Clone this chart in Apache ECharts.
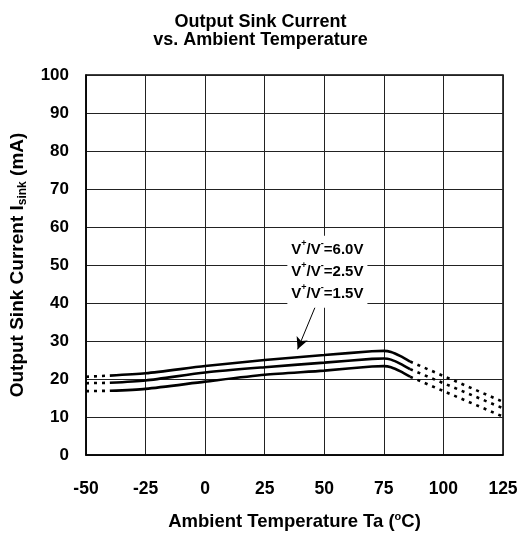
<!DOCTYPE html>
<html><head><meta charset="utf-8">
<script src="https://cdn.jsdelivr.net/npm/echarts/dist/echarts.min.js"></script>
<style>html,body{margin:0;padding:0;background:#fff}#c{width:521px;height:533px}</style>
</head><body><div id="c"></div>
<script>
// Temperatures (°C) for the solid part of each curve
const tempSolid = [-40, -25, 0, 25, 50, 70, 75, 78, 82, 86];
const sink60 = [20.9, 21.5, 23.4, 25.0, 26.3, 27.3, 27.4, 27.1, 26.0, 24.6];
const sink25 = [19.0, 19.6, 21.7, 23.1, 24.3, 25.3, 25.4, 25.1, 24.0, 22.6];
const sink15 = [16.9, 17.4, 19.3, 21.1, 22.2, 23.3, 23.4, 23.1, 22.0, 20.6];
// Dotted (extrapolated) parts
const tempLow = [-50, -40];
const low60 = [20.6, 20.9];
const low25 = [18.9, 19.0];
const low15 = [16.8, 16.9];
const tempHigh = [86, 125];
const high60 = [24.6, 14.0];
const high25 = [22.6, 12.3];
const high15 = [20.6, 10.1];
const xTicks = [-50, -25, 0, 25, 50, 75, 100, 125];
const yTicks = [0, 10, 20, 30, 40, 50, 60, 70, 80, 90, 100];
const labels = ['6.0V', '2.5V', '1.5V'];
const annotationAt = [51.3, 48.2];
const arrowFrom = [46.8, 39.9];
const arrowTo = [38.8, 27.8];

const FONT = '"Liberation Sans", Arial, sans-serif';
const zip = (xs, ys) => xs.map((x, i) => [x, ys[i]]);

function solid(data) {
  return { type: 'line', data: data, showSymbol: false, symbol: 'none', smooth: 0.25,
    lineStyle: { color: '#000', width: 2.6 }, silent: true, animation: false };
}
function dotted(data) {
  return { type: 'line', data: data, showSymbol: false, symbol: 'none',
    lineStyle: { color: '#000', width: 2.6, type: [3, 5] }, silent: true, animation: false };
}

const series = [
  solid(zip(tempSolid, sink60)), solid(zip(tempSolid, sink25)), solid(zip(tempSolid, sink15)),
  dotted(zip(tempLow, low60)), dotted(zip(tempLow, low25)), dotted(zip(tempLow, low15)),
  dotted(zip(tempHigh, high60)), dotted(zip(tempHigh, high25)), dotted(zip(tempHigh, high15))
];
series[0].markLine = {
  silent: true, animation: false, symbol: ['none', 'arrow'], symbolSize: [9, 12],
  label: { show: false },
  lineStyle: { color: '#000', width: 1, type: 'solid' },
  data: [[{ coord: arrowFrom }, { coord: arrowTo }]]
};
series[0].markPoint = {
  silent: true, animation: false, symbol: 'rect', symbolSize: 0,
  data: [{ coord: annotationAt }],
  label: {
    show: true, position: 'inside', backgroundColor: '#fff', padding: [3, 4],
    formatter: labels.map(l => 'V{sup|+}/V{sup|-}=' + l).join('\n'),
    fontFamily: FONT, fontWeight: 'bold', fontSize: 15, color: '#000', lineHeight: 22,
    rich: { sup: { fontFamily: FONT, fontWeight: 'bold', fontSize: 9, color: '#000', verticalAlign: 'top', lineHeight: 22 } }
  }
};

const chart = echarts.init(document.getElementById('c'), null, { renderer: 'canvas' });
chart.setOption({
  backgroundColor: '#fff',
  animation: false,
  title: {
    text: 'Output Sink Current\nvs. Ambient Temperature', left: 'center', top: 8,
    textStyle: { fontFamily: FONT, fontWeight: 'bold', fontSize: 18, color: '#000', lineHeight: 18 }
  },
  grid: { left: 86, right: 18, top: 75, bottom: 78, show: true, borderColor: '#000', borderWidth: 1.5,
    containLabel: false, outerBoundsMode: 'none' },
  xAxis: {
    type: 'value', min: xTicks[0], max: xTicks[xTicks.length - 1], interval: 25,
    name: 'Ambient Temperature Ta ({sup|o}C)', nameLocation: 'middle', nameGap: 56,
    nameTextStyle: { fontFamily: FONT, fontWeight: 'bold', fontSize: 18.5, color: '#000', lineHeight: 22,
      rich: { sup: { fontFamily: FONT, fontWeight: 'bold', fontSize: 11, color: '#000', verticalAlign: 'top', lineHeight: 22 } } },
    axisLine: { show: true, onZero: false, lineStyle: { color: '#000', width: 1.5 } },
    axisTick: { show: false },
    axisLabel: { margin: 25, fontFamily: FONT, fontWeight: 'bold', fontSize: 17.5, color: '#000' },
    splitLine: { show: true, lineStyle: { color: '#222', width: 1 } }
  },
  yAxis: {
    type: 'value', min: yTicks[0], max: yTicks[yTicks.length - 1], interval: 10,
    name: 'Output Sink Current I{sub|sink} (mA)', nameLocation: 'middle', nameGap: 57,
    nameTextStyle: { fontFamily: FONT, fontWeight: 'bold', fontSize: 19, color: '#000', lineHeight: 22,
      rich: { sub: { fontFamily: FONT, fontWeight: 'bold', fontSize: 12, color: '#000', verticalAlign: 'bottom', lineHeight: 22 } } },
    axisLine: { show: true, onZero: false, lineStyle: { color: '#000', width: 1.5 } },
    axisTick: { show: false },
    axisLabel: { margin: 17, fontFamily: FONT, fontWeight: 'bold', fontSize: 17, color: '#000' },
    splitLine: { show: true, lineStyle: { color: '#222', width: 1 } }
  },
  series: series
});
</script></body></html>
